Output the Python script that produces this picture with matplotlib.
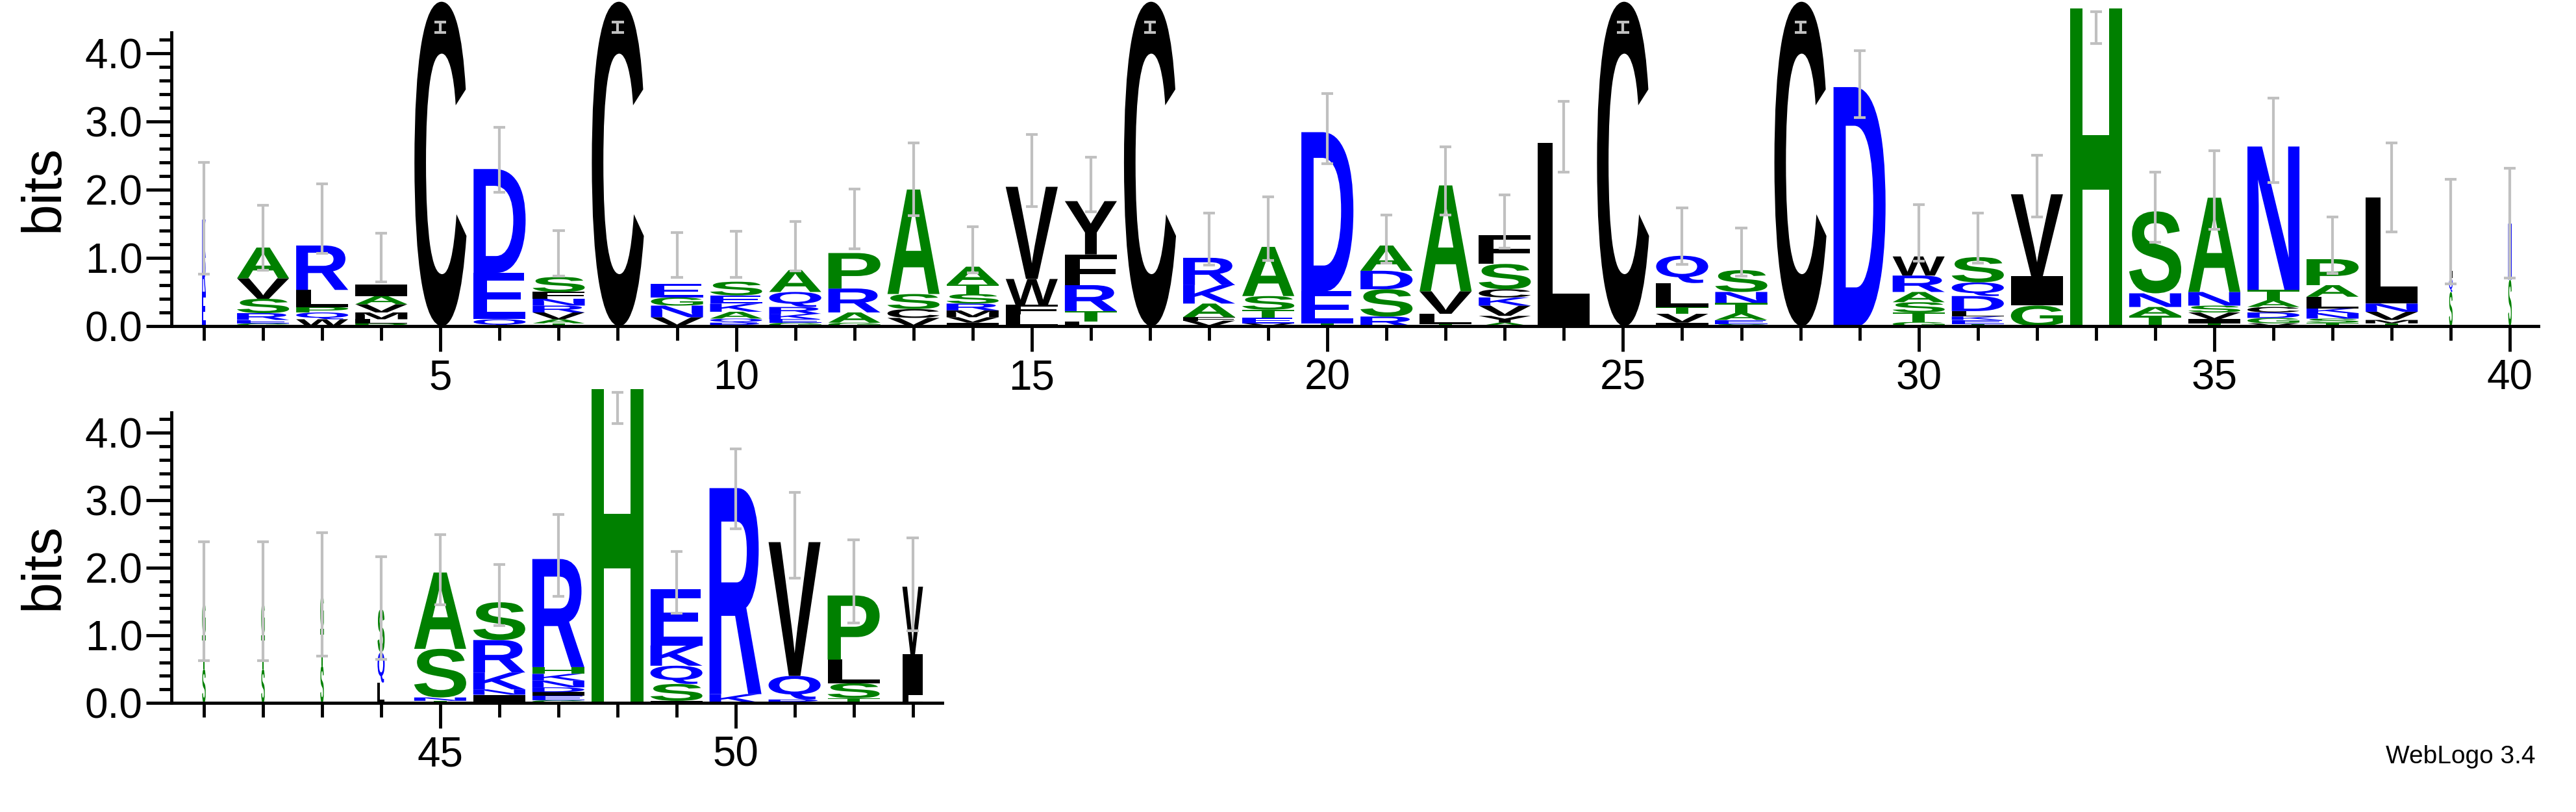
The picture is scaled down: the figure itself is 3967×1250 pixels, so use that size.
import matplotlib
matplotlib.use("Agg")
import matplotlib.pyplot as plt
from matplotlib.textpath import TextPath
from matplotlib.patches import PathPatch
from matplotlib.font_manager import FontProperties
from matplotlib.path import Path
from matplotlib.ticker import MultipleLocator, FixedLocator

positions = list(range(1, 54))
# letters bottom -> top for each position, with heights in bits
stack_letters = [
    "ERK", "GERSVA", "WQPLR", "PLMVAI", "C", "QED", "TAVRNFS", "C", "VNGE", "RQAKES",
    "GEKRQA", "GARP", "VCSA", "IVMRSTA", "LFWV", "LTRFY", "C", "VFAKR", "VETSA", "TED",
    "RSDA", "TLVA", "AYVKCSF", "IL", "C", "IVTLQ", "SEATNS", "C", "D", "GTSARW",
    "TEKLDQS", "GIV", "H", "TANS", "TIVSNA", "VGDCATN", "TSNKLAP", "TMVNL", "SQL", "SN",
    "STG", "STG", "STG", "LQS", "TNSA", "INKRS", "GEIDNKHR", "H", "ISQKE", "KR",
    "RQV", "TSLP", "LIV",
]
stack_heights = [
    [0.5, 0.5, 0.56], [0.04, 0.05, 0.1, 0.21, 0.3, 0.45], [0.1, 0.1, 0.08, 0.25, 0.65],
    [0.04, 0.06, 0.1, 0.12, 0.12, 0.17], [4.75], [0.1, 0.68, 1.52],
    [0.04, 0.06, 0.1, 0.1, 0.1, 0.1, 0.22], [4.75], [0.13, 0.17, 0.12, 0.2],
    [0.05, 0.06, 0.1, 0.12, 0.12, 0.2],
    [0.05, 0.05, 0.08, 0.1, 0.22, 0.32], [0.05, 0.15, 0.35, 0.52], [0.12, 0.13, 0.22, 1.53],
    [0.05, 0.08, 0.1, 0.1, 0.14, 0.14, 0.26], [0.17, 0.14, 0.38, 1.35], [0.07, 0.15, 0.38, 0.45, 0.78],
    [4.75], [0.08, 0.05, 0.2, 0.27, 0.4], [0.04, 0.08, 0.12, 0.2, 0.72], [0.04, 0.47, 2.33],
    [0.14, 0.4, 0.27, 0.37], [0.03, 0.15, 0.33, 1.55], [0.05, 0.1, 0.15, 0.12, 0.12, 0.37, 0.42],
    [0.05, 2.63], [4.75], [0.05, 0.13, 0.1, 0.35, 0.4], [0.03, 0.06, 0.1, 0.15, 0.16, 0.32],
    [4.75], [3.5], [0.06, 0.14, 0.15, 0.15, 0.24, 0.28], [0.03, 0.06, 0.05, 0.08, 0.22, 0.2, 0.37],
    [0.3, 0.43, 1.2], [4.65], [0.15, 0.13, 0.2, 1.2], [0.04, 0.06, 0.1, 0.1, 0.2, 1.38],
    [0.04, 0.08, 0.08, 0.08, 0.1, 0.15, 2.1], [0.05, 0.06, 0.08, 0.07, 0.17, 0.17, 0.38],
    [0.04, 0.05, 0.12, 0.12, 1.55], [0.5, 0.2, 0.67], [0.68, 0.82],
    [0.5, 0.5, 0.5], [0.5, 0.5, 0.5], [0.55, 0.55, 0.51], [0.3, 0.45, 0.64],
    [0.03, 0.05, 0.72, 1.13], [0.12, 0.08, 0.25, 0.48, 0.56], [0.04, 0.07, 0.05, 0.07, 0.1, 0.1, 0.1, 1.6],
    [4.65], [0.03, 0.25, 0.27, 0.3, 0.83], [0.13, 3.05], [0.05, 0.35, 1.98], [0.07, 0.22, 0.35, 0.95],
    [0.12, 0.6, 1.0],
]
column_width = [0.06 if p in (1, 39, 40, 41, 42, 43) else 0.12 if p == 44 else 0.35 if p == 53 else 0.88
                for p in positions]
err_hi = [2.4, 1.77, 2.08, 1.36, 4.45, 2.91, 1.4, 4.45, 1.37, 1.39, 1.53, 2.01, 2.68, 1.46, 2.81,
          2.47, 4.45, 1.66, 1.89, 3.41, 1.63, 2.63, 1.92, 3.29, 4.45, 1.73, 1.44, 4.45, 4.03, 1.78,
          1.66, 2.5, 4.6, 2.25, 2.57, 3.34, 1.6, 2.68, 2.15, 2.31,
          2.39, 2.39, 2.52, 2.16, 2.49, 2.05, 2.79, 4.6, 2.24, 3.76, 3.12, 2.41, 2.44]
err_lo = [0.76, 0.82, 1.07, 0.65, 4.3, 1.96, 0.73, 4.3, 0.71, 0.71, 0.81, 1.13, 1.62, 0.78, 1.75,
          1.67, 4.3, 0.89, 0.96, 2.38, 0.92, 1.63, 1.14, 2.25, 4.3, 0.9, 0.73, 4.3, 3.05, 0.95,
          0.92, 1.6, 4.14, 1.23, 1.42, 2.1, 0.77, 1.38, 0.62, 0.7,
          0.63, 0.63, 0.69, 0.64, 1.45, 1.14, 1.58, 4.14, 1.33, 2.58, 1.85, 1.18, 1.07]

BLUE, GREEN, BLACK = "#0000ff", "#008000", "#000000"
colour_of = {}
for c in "RKDENQ":
    colour_of[c] = BLUE
for c in "SGHTAP":
    colour_of[c] = GREEN
for c in "YVMCLFIW":
    colour_of[c] = BLACK

fp = FontProperties(family=["Liberation Sans", "DejaVu Sans"], weight="bold")
glyph_cache = {}


def glyph(ch):
    if ch not in glyph_cache:
        tp = TextPath((0, 0), ch, size=100, prop=fp)
        glyph_cache[ch] = (tp, tp.get_extents())
    return glyph_cache[ch]


def draw_letter(ax, ch, xc, y0, w, h):
    tp, ext = glyph(ch)
    verts = tp.vertices.copy()
    verts[:, 0] = (verts[:, 0] - ext.x0) / ext.width * w + xc - w / 2
    verts[:, 1] = (verts[:, 1] - ext.y0) / ext.height * h + y0
    ax.add_patch(PathPatch(Path(verts, tp.codes), facecolor=colour_of[ch],
                           edgecolor="none", clip_on=False))


W, H = 3967, 1250
fig = plt.figure(figsize=(W / 100, H / 100), dpi=100)
ax1 = fig.add_axes([264 / W, 1 - 502 / H, 3645 / W, 452 / H])
ax2 = fig.add_axes([264 / W, 1 - 1082 / H, 1187 / W, 447 / H])

for ax, pos_range, xlim, labs in [(ax1, range(1, 41), (0.45, 40.48), [5, 10, 15, 20, 25, 30, 35, 40]),
                                  (ax2, range(41, 54), (40.45, 53.5), [45, 50])]:
    for p in pos_range:
        i = p - 1
        y = 0.0
        for ch, h in zip(stack_letters[i], stack_heights[i]):
            draw_letter(ax, ch, p, y, column_width[i], h)
            y += h
        ax.vlines(p, err_lo[i], err_hi[i], color="#c0c0c0", lw=3, zorder=5, clip_on=False)
        ax.hlines([err_lo[i], err_hi[i]], p - 0.1, p + 0.1, color="#c0c0c0", lw=3, zorder=5, clip_on=False)
    ax.set_xlim(*xlim)
    ax.set_ylim(0, 4.3)
    ax.spines["top"].set_visible(False)
    ax.spines["right"].set_visible(False)
    ax.spines["left"].set_linewidth(3.5)
    ax.spines["bottom"].set_linewidth(3.5)
    ax.yaxis.set_major_locator(FixedLocator([0, 1, 2, 3, 4]))
    ax.set_yticklabels(["0.0", "1.0", "2.0", "3.0", "4.0"])
    ax.yaxis.set_minor_locator(MultipleLocator(0.2))
    ax.xaxis.set_major_locator(FixedLocator(labs))
    ax.xaxis.set_minor_locator(FixedLocator(list(pos_range)))
    ax.set_xticklabels([str(v) for v in labs])
    ax.tick_params(axis="y", which="major", length=28, width=3.5, labelsize=46, pad=4)
    ax.tick_params(axis="y", which="minor", length=14, width=3.5)
    ax.tick_params(axis="x", which="major", length=28, width=3.5, labelsize=46, pad=8)
    ax.tick_params(axis="x", which="minor", length=16, width=3.5)
    for t in ax.get_xticklabels() + ax.get_yticklabels():
        t.set_family(["Liberation Sans Narrow", "Liberation Sans", "DejaVu Sans"])
    ax.set_ylabel("bits", fontsize=62, family=["Liberation Sans", "DejaVu Sans"])

ax1.yaxis.set_label_coords(-0.043, 0.47)
ax2.yaxis.set_label_coords(-0.132, 0.47)
fig.text(3904 / W, 1 - 1165 / H, "WebLogo 3.4", ha="right", va="center", fontsize=28,
         family=["Liberation Sans", "DejaVu Sans"])
fig.savefig("out.png", dpi=100)
